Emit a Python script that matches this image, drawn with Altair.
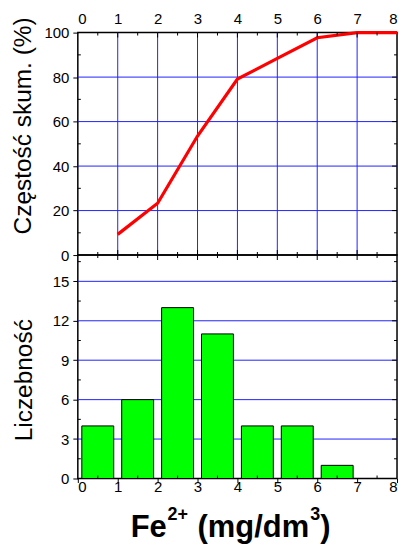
import altair as alt
import pandas as pd

# ---- data ----
cum_x = [1, 2, 3, 4, 5, 6, 7, 8]
cum_pct = [9.3, 23.3, 53.5, 79.1, 88.4, 97.7, 100.0, 100.0]
bin_lo = [0, 1, 2, 3, 4, 5, 6]
bin_hi = [1, 2, 3, 4, 5, 6, 7]
counts = [4, 6, 13, 11, 4, 4, 1]

x_major = [0, 1, 2, 3, 4, 5, 6, 7, 8]
x_minor = [0.5, 1.5, 2.5, 3.5, 4.5, 5.5, 6.5, 7.5]
x_grid = [1, 2, 3, 4, 5, 6, 7]
top_major = [0, 20, 40, 60, 80, 100]
top_minor = [10, 30, 50, 70, 90]
top_grid = [20, 40, 60, 80]
bot_major = [0, 3, 6, 9, 12, 15]
bot_minor = [1.5, 4.5, 7.5, 10.5, 13.5, 16.5]
bot_grid = [3, 6, 9, 12, 15]

# ---- styling ----
W, H1, H2 = 320, 223, 224
FONT = "Liberation Sans"
BLUE = "#2222ff"
MAJ, MIN = 5, 3

xscale = alt.Scale(domain=[0, 8], nice=False, zero=False)
tscale = alt.Scale(domain=[0, 100], nice=False)
bscale = alt.Scale(domain=[0, 17], nice=False)


def xt(f):
    return alt.X(f"{f}:Q", scale=xscale,
                 axis=alt.Axis(orient="top", values=x_major, ticks=False, tickSize=0,
                               labelPadding=6, grid=False, domain=False, title=None,
                               format="d", labelFontSize=15))


def yt(f):
    return alt.Y(f"{f}:Q", scale=tscale,
                 axis=alt.Axis(values=top_major, tickSize=5, labelPadding=4, grid=False,
                               domain=False, format="d", labelFontSize=15,
                               title="Częstość skum. (%)", titleX=-47, titleY=93,
                               titleBaseline="alphabetic", titleFontSize=24.5,
                               titleFontWeight="normal"))


def xb(f):
    return alt.X(f"{f}:Q", scale=xscale,
                 axis=alt.Axis(orient="bottom", values=x_major, tickSize=4, labelPadding=-3,
                               grid=False, domain=False, title=None, format="d",
                               labelFontSize=15))


def yb(f):
    return alt.Y(f"{f}:Q", scale=bscale,
                 axis=alt.Axis(values=bot_major, tickSize=5, labelPadding=4, grid=False,
                               domain=False, format="d", labelFontSize=15,
                               title="Liczebność", titleX=-46, titleY=125,
                               titleBaseline="alphabetic", titleFontSize=24.5,
                               titleFontWeight="normal"))


def df(**cols):
    return pd.DataFrame(cols)


# ---------- top panel ----------
t_gridv = alt.Chart(df(v=x_grid)).mark_rule(color=BLUE, strokeWidth=1).encode(x=xt("v"))
t_gridh = alt.Chart(df(v=top_grid)).mark_rule(color=BLUE, strokeWidth=1).encode(y=yt("v"))
t_line = alt.Chart(df(x=cum_x, y=cum_pct)).mark_line(color="#ff0000", strokeWidth=3.2).encode(
    x=xt("x"), y=yt("y"))


def vticks(vals, size, edge_y, sign, enc):
    return alt.Chart(df(v=vals)).mark_tick(orient="vertical", size=size, thickness=1,
                                           color="black", yOffset=sign * size / 2,
                                           opacity=1).encode(x=enc("v"), y=alt.value(edge_y))


def hticks(vals, size, edge_x, sign, enc):
    return alt.Chart(df(v=vals)).mark_tick(orient="horizontal", size=size, thickness=1,
                                           color="black", xOffset=sign * size / 2,
                                           opacity=1).encode(y=enc("v"), x=alt.value(edge_x))


top_layers = [
    t_gridv, t_gridh, t_line,
    vticks(x_major[1:-1], MAJ, 0, 1, xt), vticks(x_minor, MIN, 0, 1, xt),
    vticks(x_major[1:-1], MAJ, H1, -1, xt), vticks(x_minor, MIN, H1, -1, xt),
    hticks(top_major[1:-1], MAJ, W, -1, yt), hticks(top_minor, MIN, W, -1, yt),
    hticks(top_minor, MIN, 0, 1, yt),
]
top = alt.layer(*top_layers).properties(width=W, height=H1)

# ---------- bottom panel ----------
b_gridh = alt.Chart(df(v=bot_grid)).mark_rule(color=BLUE, strokeWidth=1).encode(y=yb("v"))
b_bars = alt.Chart(df(lo=bin_lo, hi=bin_hi, n=counts)).mark_bar(
    color="#00ff00", stroke="black", strokeWidth=1, xOffset=4, x2Offset=-4).encode(
    x=xb("lo"), x2="hi:Q", y=yb("n"), y2=alt.datum(0))


def ttext(txt, x, y, size):
    return alt.Chart(df(a=[0])).mark_text(align="left", baseline="alphabetic", font=FONT,
                                          fontWeight="bold", fontSize=size,
                                          color="black").encode(
        x=alt.value(x), y=alt.value(y), text=alt.value(txt))


bot_layers = [
    b_gridh, b_bars,
    vticks(x_minor, MIN, H2, -1, xb),
    vticks(x_major[1:-1], MAJ, 0, 1, xb), vticks(x_minor, MIN, 0, 1, xb),
    hticks(bot_major[1:], MAJ, W, -1, yb), hticks(bot_minor, MIN, W, -1, yb),
    hticks(bot_minor, MIN, 0, 1, yb),
    ttext("Fe", 53, H2 + 59, 31),
    ttext("2+", 90, H2 + 41.5, 18),
    ttext("(mg/dm", 120, H2 + 59, 31),
    ttext("3", 233, H2 + 41.5, 18),
    ttext(")", 243, H2 + 59, 31),
]
bottom = alt.layer(*bot_layers).properties(width=W, height=H2)

chart = alt.vconcat(
    top, bottom, spacing=0, bounds="flush",
    padding={"left": 2, "top": 2, "right": 0, "bottom": 0}
).configure_view(
    stroke="black", strokeWidth=1.5
).configure_axis(
    labelFont=FONT, titleFont=FONT, labelColor="black", titleColor="black",
    tickColor="black", tickWidth=1
)

chart.save("out.html", embed_options={"renderer": "svg", "actions": False})
